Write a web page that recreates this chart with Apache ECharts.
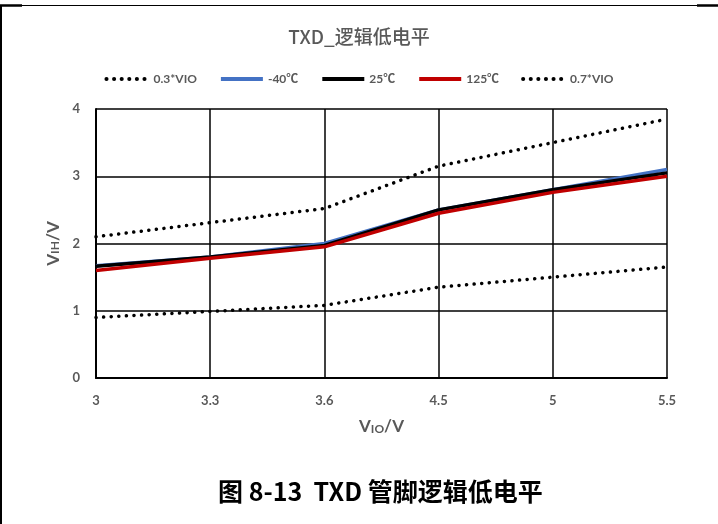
<!DOCTYPE html>
<html><head><meta charset="utf-8">
<script src="https://cdn.jsdelivr.net/npm/echarts@6/dist/echarts.min.js"></script>
<style>html,body{margin:0;padding:0;background:#fff}#c{width:718px;height:524px}</style>
</head><body><div id="c"></div>
<script>
const categories = ['3', '3.3', '3.6', '4.5', '5', '5.5'];
const vio03 = [0.9, 0.99, 1.08, 1.35, 1.5, 1.65];
const tm40 = [1.67, 1.8, 2.0, 2.5, 2.8, 3.1];
const t25 = [1.66, 1.8, 1.97, 2.5, 2.8, 3.05];
const t125 = [1.6, 1.78, 1.95, 2.45, 2.76, 3.0];
const vio07 = [2.1, 2.31, 2.52, 3.15, 3.5, 3.85];
const yTicks = [0, 1, 2, 3, 4];

const FONT = 'Lato, "Noto Sans CJK SC", sans-serif';
const chart = echarts.init(document.getElementById('c'));
const dotted = {type: [0.1, 7.5], width: 3.5, cap: 'round', color: '#000'};
const nameRich = {
  v: {fontFamily: FONT, fontSize: 17, fontWeight: 'bold', color: '#595959'},
  s: {fontFamily: FONT, fontSize: 12, fontWeight: 'bold', color: '#595959', verticalAlign: 'bottom', padding: [5, 0, 0, 0]}
};
chart.setOption({
  animation: false,
  title: {
    text: 'TXD_逻辑低电平', left: 'center', top: 22,
    textStyle: {fontFamily: '"Noto Sans CJK SC", sans-serif', fontSize: 19, fontWeight: 500, color: '#595959'}
  },
  legend: {
    top: 68, left: 'center', itemWidth: 42, itemHeight: 6, itemGap: 22,
    itemStyle: {opacity: 0},
    lineStyle: {width: 4},
    textStyle: {fontFamily: FONT, fontSize: 12, fontWeight: 'bold', color: '#595959'},
    data: ['0.3*VIO', '-40℃', '25℃', '125℃', '0.7*VIO']
  },
  grid: {left: 96, right: 51, top: 109, bottom: 146},
  xAxis: {
    type: 'category', data: categories, boundaryGap: false,
    name: '{v|V}{s|IO}{v|/V}', nameLocation: 'middle', nameGap: 40,
    nameTextStyle: {rich: nameRich},
    axisLine: {lineStyle: {color: '#000', width: 2}},
    axisTick: {show: false},
    axisLabel: {margin: 16, fontFamily: FONT, fontSize: 13, fontWeight: 'bold', color: '#595959'},
    splitLine: {show: true, lineStyle: {color: '#000', width: 1.5}}
  },
  yAxis: {
    type: 'value', min: yTicks[0], max: yTicks[yTicks.length - 1], interval: 1,
    name: '{v|V}{s|IH}{v|/V}', nameLocation: 'middle', nameGap: 33, nameRotate: 90,
    nameTextStyle: {rich: nameRich},
    axisLine: {show: true, lineStyle: {color: '#000', width: 2}},
    axisTick: {show: false},
    axisLabel: {margin: 16, fontFamily: FONT, fontSize: 13, fontWeight: 'bold', color: '#595959'},
    splitLine: {show: true, lineStyle: {color: '#000', width: 1.5}}
  },
  series: [
    {name: '0.3*VIO', type: 'line', data: vio03, symbol: 'none', lineStyle: dotted, itemStyle: {color: '#000'}},
    {name: '0.7*VIO', type: 'line', data: vio07, symbol: 'none', lineStyle: dotted, itemStyle: {color: '#000'}},
    {name: '-40℃', type: 'line', data: tm40, symbol: 'none', lineStyle: {color: '#4472C4', width: 3.5}, itemStyle: {color: '#4472C4'}},
    {name: '25℃', type: 'line', data: t25, symbol: 'none', lineStyle: {color: '#000', width: 3.5}, itemStyle: {color: '#000'}},
    {name: '125℃', type: 'line', data: t125, symbol: 'none', lineStyle: {color: '#C00000', width: 3.5}, itemStyle: {color: '#C00000'}}
  ],
  graphic: [
    {type: 'line', shape: {x1: 0, y1: 5.5, x2: 718, y2: 5.5}, style: {stroke: '#000', lineWidth: 1.2}},
    {type: 'line', shape: {x1: 0, y1: 5.5, x2: 22, y2: 5.5}, style: {stroke: '#000', lineWidth: 2.5}},
    {type: 'line', shape: {x1: 697, y1: 5.5, x2: 718, y2: 5.5}, style: {stroke: '#000', lineWidth: 2.5}},
    {type: 'line', shape: {x1: 1, y1: 5, x2: 1, y2: 524}, style: {stroke: '#000', lineWidth: 2}},
    {type: 'text', left: 218, top: 479, style: {
      text: '图 8-13  TXD 管脚逻辑低电平', fontFamily: '"Noto Sans CJK SC", sans-serif',
      fontSize: 25, fontWeight: 'bold', fill: '#000'}}
  ]
});
</script></body></html>
